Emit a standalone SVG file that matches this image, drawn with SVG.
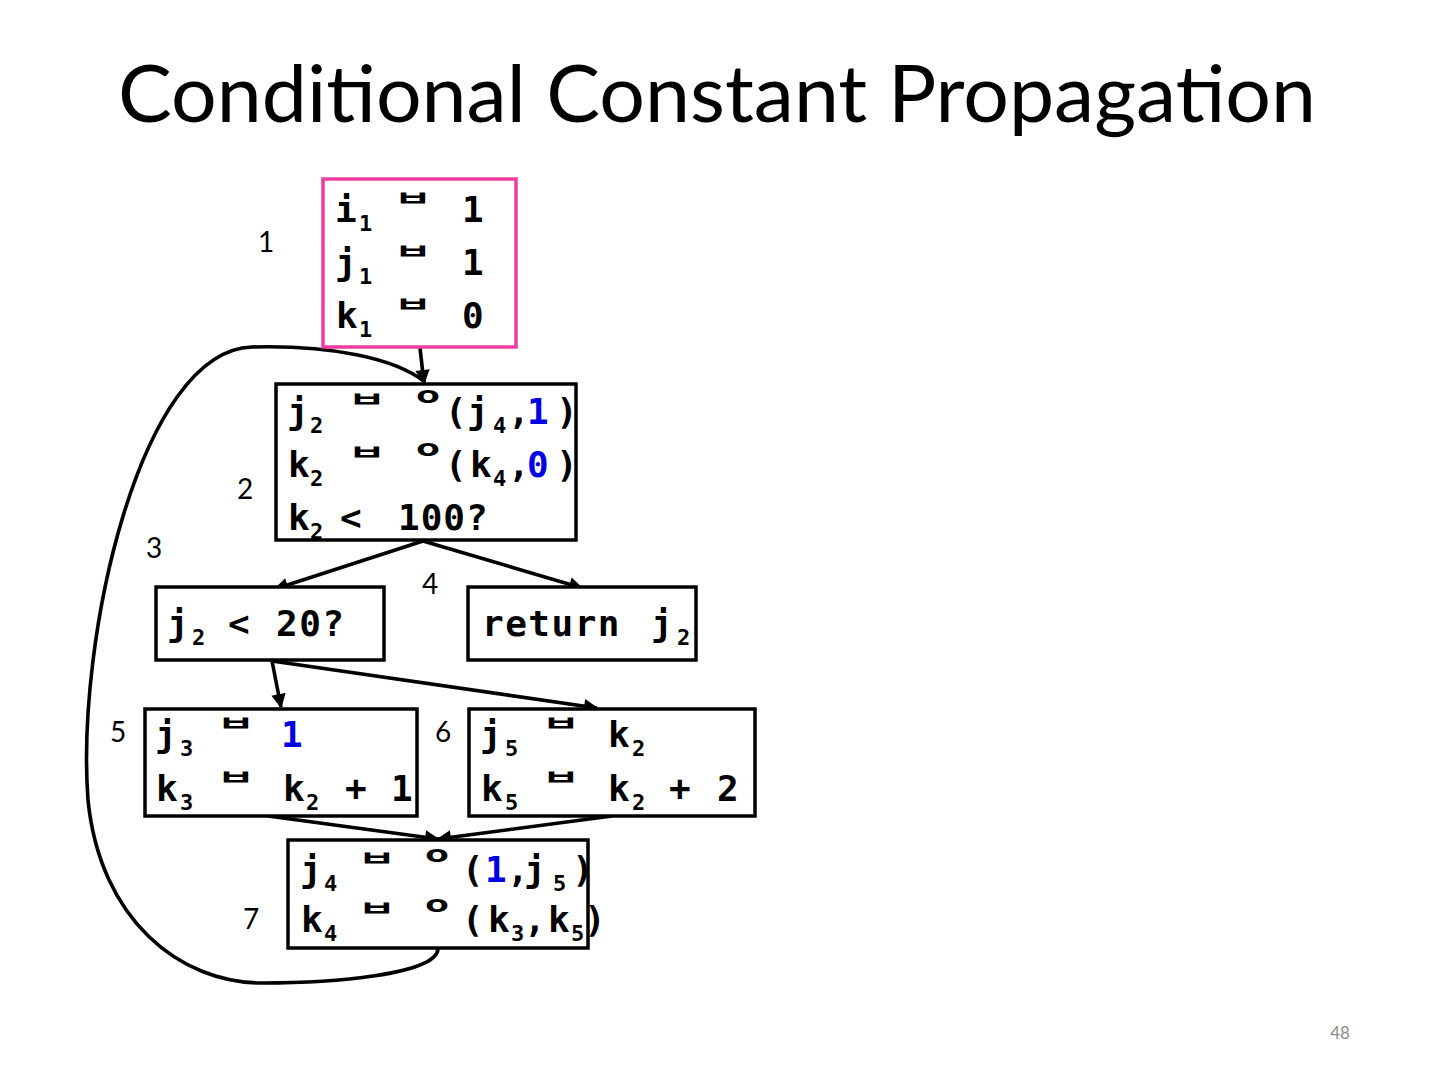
<svg xmlns="http://www.w3.org/2000/svg" width="1440" height="1080" viewBox="0 0 1440 1080">
<style>
.title{font-family:Lato,"Liberation Sans",sans-serif;font-size:80px;fill:#000}
.lbl{font-family:Lato,"Liberation Sans",sans-serif;font-size:28px;fill:#000}
.pg{font-family:Lato,"Liberation Sans",sans-serif;font-size:17px;fill:#8c8c8c}
.m{font-family:"DejaVu Sans Mono","Liberation Mono",monospace;font-weight:bold;font-size:36px;fill:#000}
.s{font-family:"DejaVu Sans Mono","Liberation Mono",monospace;font-weight:bold;font-size:22px;fill:#000}
.b{fill:#0000e0}
.ar{font-family:"DejaVu Sans","Noto Sans CJK KR",sans-serif;font-weight:bold;font-size:26px;fill:#000}
.ph{font-family:"DejaVu Sans Mono",monospace;font-weight:bold;font-size:24px;fill:#000}
.box{fill:#fff;stroke:#000;stroke-width:3.5}
.pink{fill:#fff;stroke:#ee3c9f;stroke-width:3.5}
.e{fill:none;stroke:#000;stroke-width:3.6;marker-end:url(#ah)}
.e2{fill:none;stroke:#000;stroke-width:3.6}
</style>
<defs>
<marker id="ah" viewBox="0 0 10 10" refX="9" refY="5" markerWidth="4.2" markerHeight="4" orient="auto" markerUnits="strokeWidth">
<path d="M0,0 L10,5 L0,10 z" fill="#000"/>
</marker>
<text id="ar" class="ar" text-anchor="middle" transform="scale(1.6,0.8)">ㅂ</text>
<text id="ph" class="ph" text-anchor="middle" transform="scale(1.7,0.95)">o</text>
</defs>

<text class="title" x="118" y="122" textLength="1198" lengthAdjust="spacingAndGlyphs">Conditional Constant Propagation</text>

<g id="connectors">
<path class="e2" d="M438,949 C436,975 330,983 262,983 C180,983 100,920 88,800 C76,640 140,350 252,347 C330,345 395,358 425,382"/>
<path class="e" d="M420,348 L424,383"/>
<path class="e" d="M423,541 L275,589"/>
<path class="e" d="M423,541 L582,588"/>
<path class="e" d="M272,661 L281,707"/>
<path class="e" d="M272,661 L597,708"/>
<path class="e" d="M268,816 L438,839"/>
<path class="e" d="M612,816 L438,839"/>
</g>

<g id="n1">
<rect class="pink" x="323" y="179" width="193" height="168"/>
<text class="m" x="335" y="222">i</text><text class="s" x="359" y="231">1</text><use href="#ar" x="413" y="206"/><text class="m" x="462" y="222">1</text>
<text class="m" x="335" y="275">j</text><text class="s" x="359" y="284">1</text><use href="#ar" x="413" y="259"/><text class="m" x="462" y="275">1</text>
<text class="m" x="336" y="328">k</text><text class="s" x="359" y="337">1</text><use href="#ar" x="413" y="312"/><text class="m" x="462" y="328">0</text>
<text class="lbl" x="258" y="252">1</text>
</g>

<g id="n2">
<rect class="box" x="276" y="384" width="300" height="156"/>
<text class="m" x="287" y="424">j</text><text class="s" x="310" y="433">2</text><use href="#ar" x="367" y="407"/><use href="#ph" x="428" y="403"/>
<text class="m" x="445 467" y="424">(j</text><text class="s" x="493" y="433">4</text><text class="m" x="508" y="424">,</text><text class="m b" x="527" y="424">1</text><text class="m" x="556" y="424">)</text>
<text class="m" x="288" y="477">k</text><text class="s" x="310" y="486">2</text><use href="#ar" x="367" y="460"/><use href="#ph" x="428" y="456"/>
<text class="m" x="445 470" y="477">(k</text><text class="s" x="493" y="486">4</text><text class="m" x="508" y="477">,</text><text class="m b" x="527" y="477">0</text><text class="m" x="556" y="477">)</text>
<text class="m" x="288" y="530">k</text><text class="s" x="310" y="539">2</text><text class="m" x="340" y="530">&lt;</text><text class="m" x="398" y="530" letter-spacing="1">100?</text>
<text class="lbl" x="237" y="499">2</text>
</g>

<text class="lbl" x="146" y="558">3</text>
<text class="lbl" x="422" y="594">4</text>

<g id="n3">
<rect class="box" x="156" y="587" width="228" height="73"/>
<text class="m" x="167" y="636">j</text><text class="s" x="192" y="645">2</text><text class="m" x="228" y="636">&lt;</text><text class="m" x="276" y="636" letter-spacing="1.5">20?</text>
</g>

<g id="n4">
<rect class="box" x="468" y="587" width="228" height="73"/>
<text class="m" x="482" y="636" letter-spacing="1.5">return</text><text class="m" x="651" y="636">j</text><text class="s" x="677" y="645">2</text>
</g>

<g id="n5">
<rect class="box" x="145" y="709" width="272" height="107"/>
<text class="m" x="155" y="747">j</text><text class="s" x="180" y="756">3</text><use href="#ar" x="236" y="731"/><text class="m b" x="281" y="747">1</text>
<text class="m" x="156" y="801">k</text><text class="s" x="180" y="810">3</text><use href="#ar" x="236" y="785"/><text class="m" x="283" y="801">k</text><text class="s" x="306" y="810">2</text><text class="m" x="345" y="801">+</text><text class="m" x="391" y="801">1</text>
<text class="lbl" x="110" y="742">5</text>
</g>

<g id="n6">
<rect class="box" x="469" y="709" width="286" height="107"/>
<text class="m" x="480" y="747">j</text><text class="s" x="505" y="756">5</text><use href="#ar" x="561" y="731"/><text class="m" x="608" y="747">k</text><text class="s" x="632" y="756">2</text>
<text class="m" x="481" y="801">k</text><text class="s" x="505" y="810">5</text><use href="#ar" x="561" y="785"/><text class="m" x="608" y="801">k</text><text class="s" x="632" y="810">2</text><text class="m" x="669" y="801">+</text><text class="m" x="717" y="801">2</text>
<text class="lbl" x="435" y="742">6</text>
</g>

<g id="n7">
<rect class="box" x="288" y="840" width="300" height="108"/>
<text class="m" x="300" y="882">j</text><text class="s" x="324" y="891">4</text><use href="#ar" x="377" y="866"/><use href="#ph" x="437" y="862"/>
<text class="m" x="462" y="882">(</text><text class="m b" x="485" y="882">1</text><text class="m" x="507 524" y="882">,j</text><text class="s" x="553" y="891">5</text><text class="m" x="572" y="882">)</text>
<text class="m" x="301" y="932">k</text><text class="s" x="324" y="941">4</text><use href="#ar" x="377" y="916"/><use href="#ph" x="437" y="912"/>
<text class="m" x="462 488" y="932">(k</text><text class="s" x="511" y="941">3</text><text class="m" x="524 548" y="932">,k</text><text class="s" x="571" y="941">5</text><text class="m" x="584" y="932">)</text>
<text class="lbl" x="243" y="929">7</text>
</g>

<text class="pg" x="1340" y="1039" text-anchor="middle">48</text>
</svg>
